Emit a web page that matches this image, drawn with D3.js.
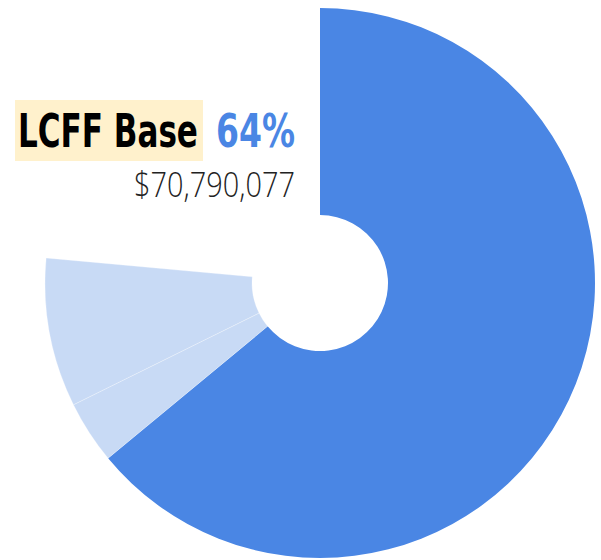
<!DOCTYPE html>
<html>
<head>
<meta charset="utf-8">
<script src="https://cdn.jsdelivr.net/npm/d3@7"></script>
<style>
  body { margin: 0; background: #fff; }
  svg { display: block; }
</style>
</head>
<body>
<div id="chart"></div>
<script>
// slices in drawing order, clockwise from 12 o'clock
var categories = ["LCFF Base", "LCFF Supplemental", "LCFF Concentration", "Other"];
var amounts    = [70790077, 4092551, 9678331, 26048536];
var fills      = ["#4a86e4", "#c8daf5", "#c8daf5", "none"];

var width = 601, height = 560;
var cx = 320, cy = 283;
var outerR = 275, innerR = 68;

var svg = d3.select("#chart").append("svg")
  .attr("width", width)
  .attr("height", height);

var pie = d3.pie().sort(null).value(function(d){ return d; });
var arc = d3.arc().innerRadius(innerR).outerRadius(outerR);

var gPie = svg.append("g").attr("transform", "translate(" + cx + "," + cy + ")");

gPie.selectAll("path")
  .data(pie(amounts))
  .enter().append("path")
    .attr("d", arc)
    .attr("fill", function(d, i){ return fills[i]; })
    .attr("stroke", function(d, i){ return i == 0 || fills[i] == "none" ? "none" : "rgba(255,255,255,0.35)"; })
    .attr("stroke-width", 0.8);

// label for the first slice
var total = d3.sum(amounts);
var pct = Math.round(amounts[0] / total * 100);
var fontCond = "'DejaVu Sans Condensed', 'Liberation Sans Narrow', sans-serif";

var gLabel = svg.append("g");

gLabel.append("rect")
  .attr("x", 15).attr("y", 100)
  .attr("width", 188).attr("height", 61)
  .attr("fill", "#fff1cc");

// squeeze a text horizontally so that it spans w pixels from x
function fitText(sel, x, y, w){
  var t = sel.attr("x", 0).attr("y", 0);
  var len = t.node().getComputedTextLength();
  t.attr("transform", "translate(" + x + "," + y + ") scale(" + (w / len) + ",1)");
}

fitText(gLabel.append("text")
  .attr("font-family", fontCond)
  .attr("font-weight", "bold")
  .attr("font-size", 47)
  .attr("fill", "#000")
  .text(categories[0]), 18, 147, 180);

fitText(gLabel.append("text")
  .attr("font-family", fontCond)
  .attr("font-weight", "bold")
  .attr("font-size", 47)
  .attr("fill", "#4a86e4")
  .text(pct + "%"), 216, 147, 79);

fitText(gLabel.append("text")
  .attr("font-family", "'Open Sans', 'DejaVu Sans Condensed', sans-serif")
  .attr("font-weight", 300)
  .attr("font-size", 34)
  .attr("fill", "#222")
  .text("$" + d3.format(",")(amounts[0])), 134, 197, 161);
</script>
</body>
</html>
